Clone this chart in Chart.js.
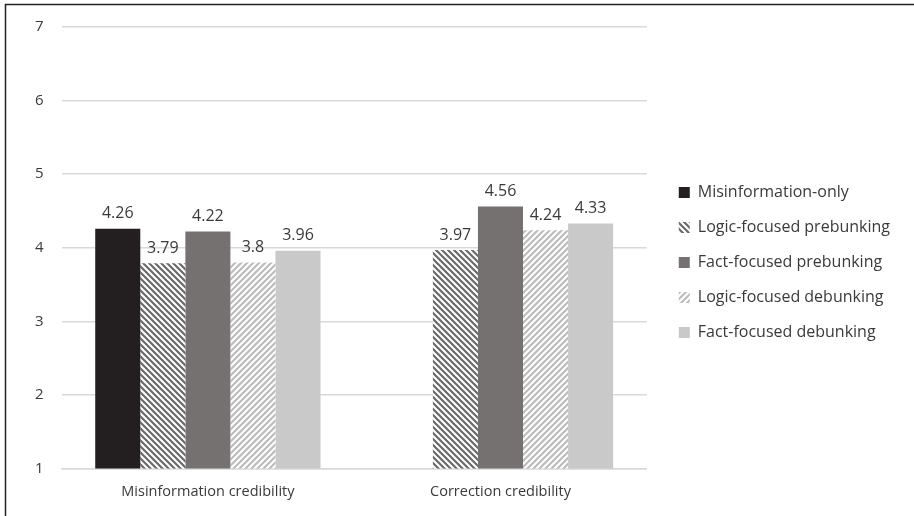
<!DOCTYPE html>
<html>
<head>
<meta charset="utf-8">
<script src="https://cdn.jsdelivr.net/npm/chart.js@4/dist/chart.umd.min.js"></script>
<style>
  html, body { margin: 0; padding: 0; background: #fff; }
  #wrap { width: 914px; height: 516px; position: relative; }
</style>
</head>
<body>
<div id="wrap"><canvas id="c" width="914" height="516"></canvas></div>
<script>
const categories = ['Misinformation credibility', 'Correction credibility'];
const seriesNames = [
  'Misinformation-only',
  'Logic-focused prebunking',
  'Fact-focused prebunking',
  'Logic-focused debunking',
  'Fact-focused debunking'
];
const misinformationOnly = [4.26, null];
const logicPrebunking = [3.79, 3.97];
const factPrebunking = [4.22, 4.56];
const logicDebunking = [3.8, 4.24];
const factDebunking = [3.96, 4.33];
const yTicks = [1, 2, 3, 4, 5, 6, 7];

const FONT = '"Open Sans", sans-serif';
const TEXT = '#3a3a3a';

// diagonal hatch fill; dir 1 = "\\\", dir -1 = "///"
function hatch(color, dir) {
  const s = 6;
  const c = document.createElement('canvas');
  c.width = s; c.height = s;
  const g = c.getContext('2d');
  g.fillStyle = '#fff';
  g.fillRect(0, 0, s, s);
  g.strokeStyle = color;
  g.lineWidth = 2.2;
  g.beginPath();
  for (let k = -1; k <= 1; k++) {
    if (dir > 0) {
      g.moveTo(k * s - 1, -1);
      g.lineTo(k * s + s + 1, s + 1);
    } else {
      g.moveTo(k * s - 1, s + 1);
      g.lineTo(k * s + s + 1, -1);
    }
  }
  g.stroke();
  return g.createPattern(c, 'repeat');
}

const fills = [
  '#231f20',
  hatch('#6a6a6a', 1),
  '#767171',
  hatch('#bcbcbc', -1),
  '#c9c9c9'
];
const values = [misinformationOnly, logicPrebunking, factPrebunking, logicDebunking, factDebunking];

// value labels above each bar
const valueLabels = {
  id: 'valueLabels',
  afterDatasetsDraw(chart) {
    const ctx = chart.ctx;
    ctx.save();
    ctx.font = '16px ' + FONT;
    ctx.fillStyle = TEXT;
    ctx.textAlign = 'center';
    ctx.textBaseline = 'bottom';
    chart.data.datasets.forEach((ds, i) => {
      const meta = chart.getDatasetMeta(i);
      meta.data.forEach((bar, j) => {
        const v = ds.data[j];
        if (v === null || v === undefined) return;
        ctx.fillText(String(v), bar.x, bar.y - 7);
      });
    });
    ctx.restore();
  }
};

// extra gap between the plot and the legend
const legendGap = {
  id: 'legendGap',
  afterLayout(chart) {
    if (chart.legend) {
      chart.legend.left += 13;
      chart.legend.right += 13;
    }
  }
};

// frame along the top and left edges
const frame = {
  id: 'frame',
  afterDraw(chart) {
    const ctx = chart.ctx;
    ctx.save();
    ctx.strokeStyle = '#222';
    ctx.lineWidth = 1.5;
    ctx.beginPath();
    ctx.moveTo(5.5, 516);
    ctx.lineTo(5.5, 4.5);
    ctx.lineTo(914, 4.5);
    ctx.stroke();
    ctx.restore();
  }
};

new Chart(document.getElementById('c'), {
  type: 'bar',
  data: {
    labels: categories,
    datasets: seriesNames.map((name, i) => ({
      label: name,
      data: values[i],
      backgroundColor: fills[i],
      borderWidth: 0,
      barPercentage: 1,
      categoryPercentage: 0.77
    }))
  },
  options: {
    responsive: false,
    animation: false,
    layout: { padding: { top: 9, left: 17, right: 27, bottom: 0 } },
    plugins: {
      tooltip: { enabled: false },
      legend: {
        position: 'right',
        align: 'center',
        maxWidth: 320,
        labels: {
          font: { family: FONT, size: 16 },
          color: TEXT,
          boxWidth: 11,
          boxHeight: 11,
          padding: 19
        }
      }
    },
    scales: {
      x: {
        grid: { display: false, drawTicks: false },
        border: { color: '#d9d9d9', width: 1.5 },
        ticks: { font: { family: FONT, size: 14.5 }, color: TEXT, padding: 15 }
      },
      y: {
        min: 1,
        max: 7,
        afterBuildTicks(axis) { axis.ticks = yTicks.map(v => ({ value: v })); },
        grid: { color: '#d9d9d9', lineWidth: 1.5, drawTicks: false },
        border: { display: false },
        ticks: { font: { family: FONT, size: 15 }, color: TEXT, padding: 18 }
      }
    }
  },
  plugins: [valueLabels, legendGap, frame]
});
</script>
</body>
</html>
